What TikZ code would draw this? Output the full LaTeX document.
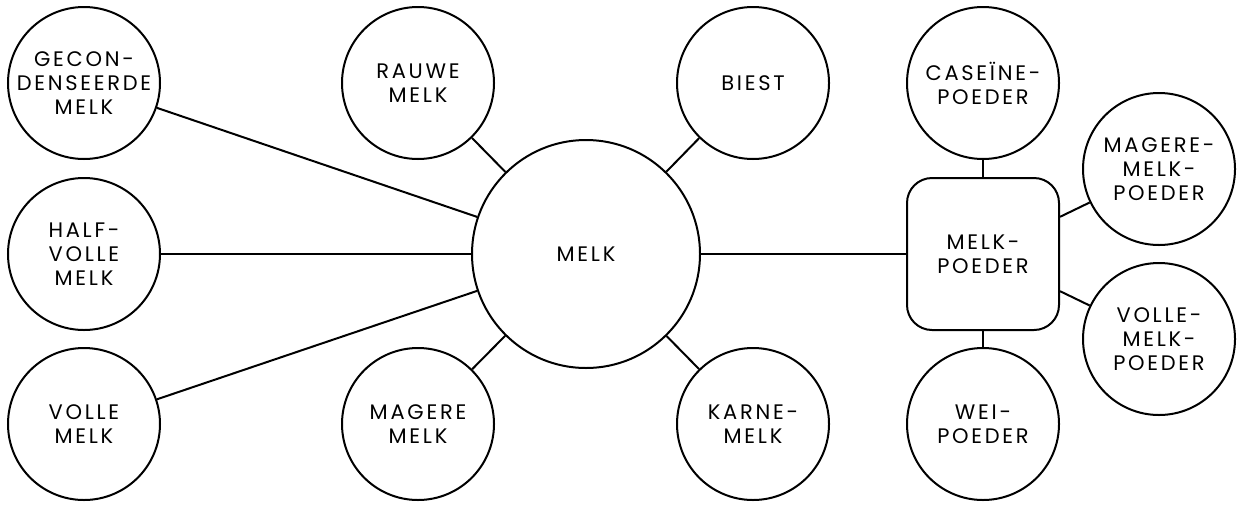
\documentclass[tikz,border=0pt]{standalone}
\usepackage{fontspec}
\setmainfont{Poppins}[LetterSpace=13]
\begin{document}
\begin{tikzpicture}[x=1pt,y=-1pt,
  bub/.style={circle,draw,line width=2pt,minimum size=152pt,inner sep=0pt,align=center,fill=white,
    font=\fontsize{21}{24}\selectfont},
  big/.style={bub,minimum size=228pt},
  box/.style={rectangle,rounded corners=25pt,draw,line width=2pt,minimum width=152pt,minimum height=152pt,inner sep=0pt,align=center,fill=white,
    font=\fontsize{21}{24}\selectfont},
  link/.style={line width=2pt}]
\useasboundingbox (0,0) rectangle (1241,504);
\node[bub] (gec) at (84,83) {GECON-\\DENSEERDE\\MELK};
\node[bub] (half) at (84,254) {HALF-\\VOLLE\\MELK};
\node[bub] (vol) at (84,424) {VOLLE\\MELK};
\node[bub] (rauw) at (418,83) {RAUWE\\MELK};
\node[bub] (biest) at (753,83) {BIEST};
\node[bub] (mag) at (418,424) {MAGERE\\MELK};
\node[bub] (karn) at (753,424) {KARNE-\\MELK};
\node[big] (melk) at (586,254) {MELK};
\node[box] (mp) at (983,254) {MELK-\\POEDER};
\node[bub] (cas) at (983,83) {CASEÏNE-\\POEDER};
\node[bub] (wei) at (983,424) {WEI-\\POEDER};
\node[bub] (mmp) at (1159,169) {MAGERE-\\MELK-\\POEDER};
\node[bub] (vmp) at (1159,339) {VOLLE-\\MELK-\\POEDER};
\draw[link] (gec) -- (melk);
\draw[link] (half) -- (melk);
\draw[link] (vol) -- (melk);
\draw[link] (rauw) -- (melk);
\draw[link] (biest) -- (melk);
\draw[link] (mag) -- (melk);
\draw[link] (karn) -- (melk);
\draw[link] (melk) -- (mp);
\draw[link] (mp) -- (cas);
\draw[link] (mp) -- (wei);
\draw[link] (mp) -- (mmp);
\draw[link] (mp) -- (vmp);
\end{tikzpicture}
\end{document}
